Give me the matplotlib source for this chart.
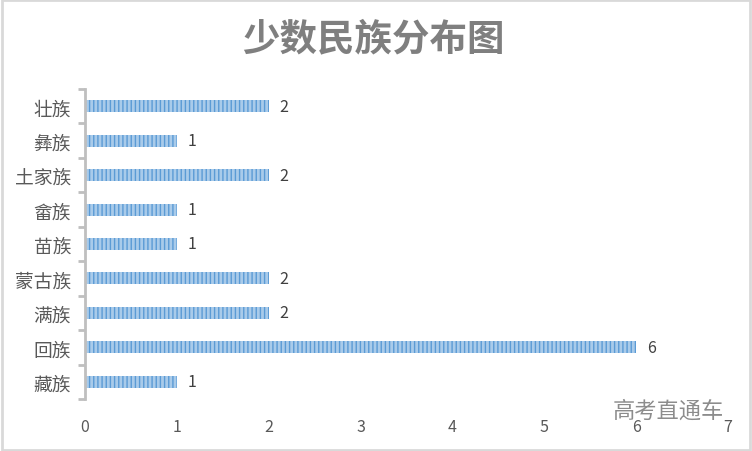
import matplotlib
matplotlib.use('Agg')
import matplotlib.pyplot as plt
from matplotlib.patches import Rectangle
import numpy as np

plt.rcParams['font.family'] = ['Noto Sans CJK SC', 'DejaVu Sans']
plt.rcParams['hatch.color'] = '#5B9BD5'
plt.rcParams['hatch.linewidth'] = 1.0

# 数据
minzu = ['藏族', '回族', '满族', '蒙古族', '苗族', '畲族', '土家族', '彝族', '壮族']
renshu = [1, 6, 2, 2, 1, 1, 2, 1, 2]
x_ticks = [0, 1, 2, 3, 4, 5, 6, 7]

fig = plt.figure(figsize=(7.52, 4.52), dpi=100)
ax = fig.add_axes([0.113, 0.115, 0.855, 0.686])

pos = np.arange(len(minzu))
barras = ax.barh(pos, renshu, height=0.35, color='#A9CBEA', hatch='||||',
                 edgecolor='#5B9BD5', linewidth=0)
for p, v in zip(pos, renshu):
    ax.text(v + 0.12, p, str(v), va='center', ha='left', fontsize=11.5, color='#404040')

ax.set_xlim(0, 7)
ax.set_ylim(-0.5, len(minzu) - 0.5)
ax.set_xticks(x_ticks)
ax.set_xticklabels([str(t) for t in x_ticks], fontsize=11.5, color='#595959')
ax.tick_params(axis='x', length=0, pad=14)

ax.set_yticks(pos)
ax.set_yticklabels(minzu, fontsize=13.5, color='#595959')
ax.tick_params(axis='y', which='major', length=0, pad=10)
ax.set_yticks(np.arange(-0.5, len(minzu), 1), minor=True)
ax.tick_params(axis='y', which='minor', length=5, width=2, color='#BFBFBF', direction='out')

for s in ['top', 'right', 'bottom']:
    ax.spines[s].set_visible(False)
ax.spines['left'].set_color('#BFBFBF')
ax.spines['left'].set_linewidth(2)

fig.text(0.497, 0.915, '少数民族分布图', ha='center', va='center', fontsize=27,
         fontweight='bold', color='#7F7F7F')
fig.text(0.888, 0.09, '高考直通车', ha='center', va='center', fontsize=16, color='#8C8C8C')

# marco
fig.patches.append(Rectangle((0.002, 0.003), 0.996, 0.994, transform=fig.transFigure,
                             fill=False, edgecolor='#D9D9D9', linewidth=2))

fig.savefig('out.png', dpi=100)
